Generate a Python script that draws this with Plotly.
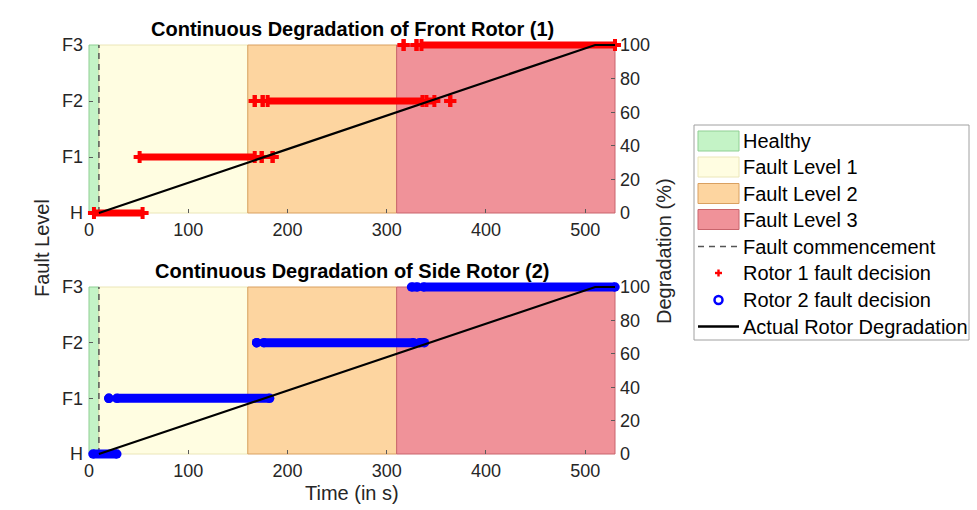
import plotly.graph_objects as go

W, H = 977, 510

# ---------------- data ----------------
time_max = 530
level_labels = ["H", "F1", "F2", "F3"]
level_values = [0, 1, 2, 3]
pct_ticks = [0, 20, 40, 60, 80, 100]
time_ticks = [0, 100, 200, 300, 400, 500]

band_names = ["Healthy", "Fault Level 1", "Fault Level 2", "Fault Level 3"]
band_start = [0, 10, 160, 310]
band_end = [10, 160, 310, 530]

fault_commencement = 10

degradation_time = [10, 510, 530]
degradation_pct = [0, 100, 100]

# fault-decision runs (start time, end time, decided level index)
rotor1_run_start = [5, 51, 174, 185, 167, 175, 180, 340, 364, 317, 330, 335]
rotor1_run_end = [54, 167, 174, 185, 167, 175, 336, 348, 364, 317, 330, 530]
rotor1_run_level = [0, 1, 1, 1, 2, 2, 2, 2, 2, 3, 3, 3]

rotor2_run_start = [4, 20, 28, 169, 176, 333, 325, 337]
rotor2_run_end = [28, 20, 182, 169, 327, 338, 331, 530]
rotor2_run_level = [0, 1, 1, 2, 2, 2, 3, 3]

titles = ["Continuous Degradation of Front Rotor (1)",
          "Continuous Degradation of Side Rotor (2)"]

# ---------------- styles ----------------
band_fill = ["#c4f3c6", "#fffde1", "#fdd5a0", "#f09299"]
band_edge = ["#8fcf93", "#ebe6b8", "#d9a060", "#c9646c"]
FONT = "Arial, 'Liberation Sans', Helvetica, sans-serif"
TXT = "#262626"

AX_L, AX_R = 89, 615
PANELS = [(45, 213), (287, 454)]
E = 10  # extension (px) of the drawing subplot so edge markers are not clipped


def fx(px):
    return px / W


def fy(py):
    return 1 - py / H


fig = go.Figure()
layout = dict(
    template="none",
    width=W, height=H, margin=dict(l=0, r=0, t=0, b=0, pad=0, autoexpand=False), autosize=False,
    paper_bgcolor="white", plot_bgcolor="rgba(0,0,0,0)", showlegend=False,
    font=dict(family=FONT, color=TXT),
)

ymin, ymax = min(level_values), max(level_values)
pmin, pmax = min(pct_ticks), max(pct_ticks)
xpx = AX_R - AX_L


def nm(prefix, n):
    return prefix if n == 1 else f"{prefix}{n}"


for i, (top, bot) in enumerate(PANELS):
    ypx = bot - top
    xd = 1 + i          # drawing x axis
    yd = 1 + 2 * i      # drawing level axis
    yd2 = 2 + 2 * i     # drawing degradation axis
    xf = 3 + i          # frame x axis
    yf = 5 + 2 * i      # frame level axis
    yf2 = 6 + 2 * i     # frame degradation axis

    dx = E * time_max / xpx
    dy = E * (ymax - ymin) / ypx
    dp = E * (pmax - pmin) / ypx
    hidden = dict(visible=False, fixedrange=True, automargin=False, showgrid=False, zeroline=False)
    layout[nm("xaxis", xd)] = dict(domain=[fx(AX_L - E), fx(AX_R + E)],
                                   range=[0 - dx, time_max + dx], anchor=nm("y", yd), **hidden)
    layout[nm("yaxis", yd)] = dict(domain=[fy(bot + E), fy(top - E)],
                                   range=[ymin - dy, ymax + dy], anchor=nm("x", xd), **hidden)
    layout[nm("yaxis", yd2)] = dict(overlaying=nm("y", yd), side="right",
                                    range=[pmin - dp, pmax + dp], anchor=nm("x", xd), **hidden)

    tick_common = dict(ticks="inside", ticklen=4, tickwidth=1, tickcolor="#5a5a5a",
                       showline=False, showgrid=False, zeroline=False, fixedrange=True,
                       automargin=False, tickfont=dict(size=18, color=TXT, family=FONT))
    layout[nm("xaxis", xf)] = dict(domain=[fx(AX_L), fx(AX_R)], range=[0, time_max],
                                   tickvals=time_ticks, ticktext=[str(t) for t in time_ticks],
                                   anchor=nm("y", yf), ticklabelstandoff=4, **tick_common)
    layout[nm("yaxis", yf)] = dict(domain=[fy(bot), fy(top)], range=[ymin, ymax],
                                   tickvals=level_values, ticktext=level_labels,
                                   anchor=nm("x", xf), ticklabelstandoff=5, **tick_common)
    layout[nm("yaxis", yf2)] = dict(overlaying=nm("y", yf), side="right", range=[pmin, pmax],
                                    tickvals=pct_ticks, ticktext=[str(p) for p in pct_ticks],
                                    anchor=nm("x", xf), ticklabelstandoff=4, **tick_common)

    xa_d, ya_d, ya_d2 = nm("x", xd), nm("y", yd), nm("y", yd2)

    # background fault-level bands
    for name, s, e, fc, ec in zip(band_names, band_start, band_end, band_fill, band_edge):
        fig.add_trace(go.Scatter(x=[s, e, e, s, s], y=[ymin, ymin, ymax, ymax, ymin],
                                 mode="lines", fill="toself", fillcolor=fc,
                                 line=dict(color=ec, width=1), name=name,
                                 hoverinfo="skip", xaxis=xa_d, yaxis=ya_d))
    # fault commencement
    fig.add_trace(go.Scatter(x=[fault_commencement, fault_commencement], y=[ymin, ymax],
                             mode="lines", line=dict(color="#555555", width=1.5, dash="6px,5px"),
                             name="Fault commencement", hoverinfo="skip", xaxis=xa_d, yaxis=ya_d))
    # fault decisions
    if i == 0:
        rs, re_, rl = rotor1_run_start, rotor1_run_end, rotor1_run_level
        col, sym, msize, lw, nmtr = "#ff0000", "cross", 10, 7, "Rotor 1 fault decision"
    else:
        rs, re_, rl = rotor2_run_start, rotor2_run_end, rotor2_run_level
        col, sym, msize, lw, nmtr = "#0000ff", "circle", 9.5, 9, "Rotor 2 fault decision"
    xs, ys = [], []
    for s, e, l in zip(rs, re_, rl):
        xs += [s, e, None]
        ys += [level_values[l], level_values[l], None]
    fig.add_trace(go.Scatter(x=xs, y=ys, mode="lines+markers", name=nmtr,
                             line=dict(color=col, width=lw),
                             marker=dict(symbol=sym, size=msize, color=col, line=dict(width=0)),
                             connectgaps=False, hoverinfo="skip", xaxis=xa_d, yaxis=ya_d))
    # actual degradation
    fig.add_trace(go.Scatter(x=degradation_time, y=degradation_pct, mode="lines",
                             line=dict(color="black", width=2.2), name="Actual Rotor Degradation",
                             hoverinfo="skip", xaxis=xa_d, yaxis=ya_d2))
    # dummy traces so frame subplots exist
    fig.add_trace(go.Scatter(x=[None], y=[None], mode="markers", hoverinfo="skip",
                             xaxis=nm("x", xf), yaxis=nm("y", yf)))
    fig.add_trace(go.Scatter(x=[None], y=[None], mode="markers", hoverinfo="skip",
                             xaxis=nm("x", xf), yaxis=nm("y", yf2)))

annotations = []
shapes = []
cx = (AX_L + AX_R) / 2
title_y = [29, 271]
for t, ty in zip(titles, title_y):
    annotations.append(dict(text=f"<b>{t}</b>", x=fx(cx), y=fy(ty), xref="paper", yref="paper",
                            xanchor="center", yanchor="middle", showarrow=False,
                            font=dict(size=20, color="black", family=FONT)))
annotations.append(dict(text="Fault Level", x=fx(42), y=fy(248), xref="paper", yref="paper",
                        textangle=-90, showarrow=False, xanchor="center", yanchor="middle",
                        font=dict(size=20, color=TXT, family=FONT)))
annotations.append(dict(text="Degradation (%)", x=fx(664), y=fy(251), xref="paper", yref="paper",
                        textangle=-90, showarrow=False, xanchor="center", yanchor="middle",
                        font=dict(size=20, color=TXT, family=FONT)))
annotations.append(dict(text="Time (in s)", x=fx(cx), y=fy(493), xref="paper", yref="paper",
                        showarrow=False, xanchor="center", yanchor="middle",
                        font=dict(size=20, color=TXT, family=FONT)))

# ---------------- legend (drawn manually) ----------------
LX0, LX1, LY0, LY1 = 694, 969, 125, 340
shapes.append(dict(type="rect", xref="paper", yref="paper", x0=fx(LX0), x1=fx(LX1),
                   y0=fy(LY1), y1=fy(LY0), line=dict(color="#a0a0a0", width=1),
                   fillcolor="white", layer="above"))
row_y = [141, 167, 193.5, 219.5, 246.5, 273, 300, 326.5]
legend_labels = band_names + ["Fault commencement", "Rotor 1 fault decision",
                              "Rotor 2 fault decision", "Actual Rotor Degradation"]
SW0, SW1 = 698, 739
for k in range(4):
    shapes.append(dict(type="rect", xref="paper", yref="paper", x0=fx(SW0), x1=fx(SW1),
                       y0=fy(row_y[k] + 10), y1=fy(row_y[k] - 10),
                       fillcolor=band_fill[k], line=dict(color=band_edge[k], width=1), layer="above"))
shapes.append(dict(type="line", xref="paper", yref="paper", x0=fx(SW0), x1=fx(SW1),
                   y0=fy(row_y[4]), y1=fy(row_y[4]),
                   line=dict(color="#555555", width=1.5, dash="6px,5px"), layer="above"))
mx = (SW0 + SW1) / 2
py = row_y[5]
shapes.append(dict(type="rect", xref="paper", yref="paper", x0=fx(mx - 3.5), x1=fx(mx + 3.5),
                   y0=fy(py + 1.2), y1=fy(py - 1.2), fillcolor="#ff0000", line=dict(width=0), layer="above"))
shapes.append(dict(type="rect", xref="paper", yref="paper", x0=fx(mx - 1.2), x1=fx(mx + 1.2),
                   y0=fy(py + 3.5), y1=fy(py - 3.5), fillcolor="#ff0000", line=dict(width=0), layer="above"))
py = row_y[6]
shapes.append(dict(type="circle", xref="paper", yref="paper", x0=fx(mx - 4), x1=fx(mx + 4),
                   y0=fy(py + 4), y1=fy(py - 4), line=dict(color="#0000ff", width=2.5), layer="above"))
shapes.append(dict(type="line", xref="paper", yref="paper", x0=fx(SW0), x1=fx(SW1),
                   y0=fy(row_y[7]), y1=fy(row_y[7]), line=dict(color="black", width=2.5), layer="above"))
for lab, yy in zip(legend_labels, row_y):
    annotations.append(dict(text=lab, x=fx(741), y=fy(yy), xref="paper", yref="paper",
                            xanchor="left", yanchor="middle", showarrow=False,
                            font=dict(size=20, color="black", family=FONT)))

layout["annotations"] = annotations
layout["shapes"] = shapes
fig.update_layout(**layout)

fig.write_html("out.html", config={"displayModeBar": False},
               post_script="document.body.style.margin='0';document.body.style.overflow='hidden';")
